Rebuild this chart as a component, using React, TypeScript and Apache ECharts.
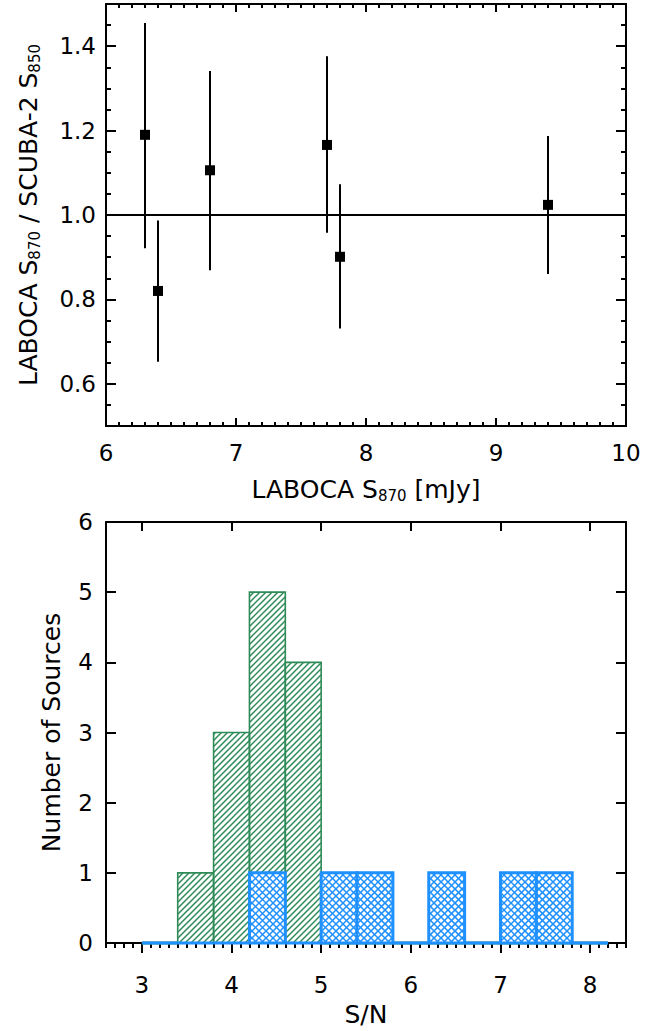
import React, { useEffect, useRef } from "react";
import * as echarts from "echarts";

// ---------- Top panel data ----------
const LABOCA_FLUX = [6.3, 6.4, 6.8, 7.7, 7.8, 9.4];
const FLUX_RATIO = [1.19, 0.82, 1.106, 1.166, 0.901, 1.024];
const RATIO_LOW = [0.921, 0.652, 0.869, 0.958, 0.731, 0.86];
const RATIO_HIGH = [1.455, 0.987, 1.341, 1.376, 1.073, 1.187];
const REF_LINE_X = [6, 10];
const REF_LINE_Y = [1, 1];

const TOP_X_MAJOR = [6, 7, 8, 9, 10];
const TOP_Y_MAJOR = [0.6, 0.8, 1.0, 1.2, 1.4];

// ---------- Bottom panel data ----------
const BIN_START = [3.0, 3.4, 3.8, 4.2, 4.6, 5.0, 5.4, 5.8, 6.2, 6.6, 7.0, 7.4, 7.8];
const BIN_WIDTH = 0.4;
const GREEN_COUNTS = [0, 1, 3, 5, 4, 0, 0, 0, 0, 0, 0, 0, 0];
const BLUE_COUNTS = [0, 0, 0, 1, 0, 1, 1, 0, 1, 0, 1, 1, 0];

const BOT_X_MAJOR = [3, 4, 5, 6, 7, 8];
const BOT_Y_MAJOR = [0, 1, 2, 3, 4, 5, 6];

function steps(a: number, b: number, s: number): number[] {
  const out: number[] = [];
  const n = Math.round((b - a) / s);
  for (let i = 0; i <= n; i++) out.push(+(a + i * s).toFixed(4));
  return out;
}
const TOP_X_MINOR = steps(6, 10, 0.1);
const TOP_Y_MINOR = steps(0.5, 1.5, 0.05);
const BOT_X_MINOR = steps(2.6, 8.4, 0.1);

const FONT = "DejaVu Sans";
const GREEN = "#2E8B57";
const BLUE = "#1E90FF";

function hatch(
  x0: number,
  y0: number,
  w: number,
  h: number,
  step: number,
  dir: "/" | "\\",
  style: any
) {
  const out: any[] = [];
  const x1 = x0 + w;
  const y1 = y0 + h;
  if (dir === "/") {
    const cMin = x0 + y0;
    const cMax = x1 + y1;
    for (let c = Math.ceil(cMin / step) * step; c <= cMax; c += step) {
      const xa = Math.max(x0, c - y1);
      const xb = Math.min(x1, c - y0);
      if (xb - xa < 0.3) continue;
      out.push({ type: "line", shape: { x1: xa, y1: c - xa, x2: xb, y2: c - xb }, style });
    }
  } else {
    const cMin = x0 - y1;
    const cMax = x1 - y0;
    for (let c = Math.ceil(cMin / step) * step; c <= cMax; c += step) {
      const xa = Math.max(x0, c + y0);
      const xb = Math.min(x1, c + y1);
      if (xb - xa < 0.3) continue;
      out.push({ type: "line", shape: { x1: xa, y1: xa - c, x2: xb, y2: xb - c }, style });
    }
  }
  return out;
}

function histRender(color: string, outlineW: number, cross: boolean, whiteFill: boolean) {
  return (params: any, api: any) => {
    const xs = api.value(0);
    const xe = api.value(1);
    const cnt = api.value(2);
    const p0 = api.coord([xs, cnt]);
    const p1 = api.coord([xe, 0]);
    const x0 = p0[0];
    const y0 = p0[1];
    const w = p1[0] - p0[0];
    const h = p1[1] - p0[1];
    if (cnt <= 0) {
      return {
        type: "line",
        shape: { x1: x0, y1: p1[1], x2: p1[0], y2: p1[1] },
        style: { stroke: color, lineWidth: 3 },
      };
    }
    const hs = { stroke: color, lineWidth: 1.5 };
    const children: any[] = [];
    if (whiteFill) {
      children.push({ type: "rect", shape: { x: x0, y: y0, width: w, height: h }, style: { fill: "#fff" } });
    }
    if (cross) {
      children.push(...hatch(x0, y0, w, h, 7, "/", hs));
      children.push(...hatch(x0, y0, w, h, 7, "\\", hs));
    } else {
      children.push(...hatch(x0, y0, w, h, 6, "/", hs));
    }
    children.push({
      type: "rect",
      shape: { x: x0, y: y0, width: w, height: h },
      style: { fill: "none", stroke: color, lineWidth: outlineW },
    });
    return { type: "group", children };
  };
}

const rich = {
  m: { fontFamily: FONT, fontSize: 25, color: "#000", lineHeight: 28 },
  s: { fontFamily: FONT, fontSize: 15, color: "#000", lineHeight: 11, verticalAlign: "bottom" },
};

const axisLineStyle = { color: "#000", width: 2 };
const tickLabel = { fontFamily: FONT, fontSize: 23, color: "#000" };
const titleStyle = { fontFamily: FONT, fontSize: 25, color: "#000" };

export default function App() {
  const ref = useRef<HTMLDivElement>(null);
  useEffect(() => {
    if (!ref.current) return;
    const chart = echarts.init(ref.current, undefined, { renderer: "svg" });

    const topBase = { gridIndex: 0, type: "value", min: 6, max: 10 };
    const topYBase = { gridIndex: 0, type: "value", min: 0.5, max: 1.5 };
    const botBase = { gridIndex: 1, type: "value", min: 2.6, max: 8.4 };
    const botYBase = { gridIndex: 1, type: "value", min: 0, max: 6 };
    const noSplit = { splitLine: { show: false } };
    const hiddenLine = { axisLine: { show: false, onZero: false } };
    const shownLine = { axisLine: { show: true, onZero: false, lineStyle: axisLineStyle } };
    const noLabel = { axisLabel: { show: false } };
    const tk = { width: 2, color: "#000" };

    const option: any = {
      animation: false,
      backgroundColor: "#fff",
      grid: [
        { left: 106, top: 4, width: 520, height: 422 },
        { left: 106, top: 522, width: 520, height: 421 },
      ],
      xAxis: [
        {
          ...topBase, ...noSplit, ...shownLine, position: "bottom",
          axisTick: { show: true, inside: true, length: 8, lineStyle: tk, customValues: TOP_X_MAJOR },
          axisLabel: { ...tickLabel, margin: 15, customValues: TOP_X_MAJOR },
          name: "{m|LABOCA S}{s|870}{m| [mJy]}",
          nameLocation: "middle",
          nameGap: 49,
          nameTextStyle: { rich, ...titleStyle },
        },
        {
          ...topBase, ...noSplit, ...hiddenLine, ...noLabel, position: "bottom",
          axisTick: { show: true, inside: true, length: 4, lineStyle: tk, customValues: TOP_X_MINOR },
        },
        {
          ...topBase, ...noSplit, ...shownLine, ...noLabel, position: "top",
          axisTick: { show: true, inside: true, length: 8, lineStyle: tk, customValues: TOP_X_MAJOR },
        },
        {
          ...topBase, ...noSplit, ...hiddenLine, ...noLabel, position: "top",
          axisTick: { show: true, inside: true, length: 4, lineStyle: tk, customValues: TOP_X_MINOR },
        },
        {
          ...botBase, ...noSplit, ...shownLine, position: "bottom",
          axisTick: { show: true, inside: false, length: 10, lineStyle: tk, customValues: BOT_X_MAJOR },
          axisLabel: { ...tickLabel, margin: 30, customValues: BOT_X_MAJOR },
          name: "S/N",
          nameLocation: "middle",
          nameGap: 59,
          nameTextStyle: titleStyle,
        },
        {
          ...botBase, ...noSplit, ...hiddenLine, ...noLabel, position: "bottom",
          axisTick: { show: true, inside: false, length: 5, lineStyle: tk, customValues: BOT_X_MINOR },
        },
        {
          ...botBase, ...noSplit, ...shownLine, ...noLabel, position: "top",
          axisTick: { show: true, inside: true, length: 9, lineStyle: tk, customValues: BOT_X_MAJOR },
        },
      ],
      yAxis: [
        {
          ...topYBase, ...noSplit, ...shownLine, position: "left",
          axisTick: { show: true, inside: true, length: 10, lineStyle: tk, customValues: TOP_Y_MAJOR },
          axisLabel: { ...tickLabel, margin: 10, customValues: TOP_Y_MAJOR, formatter: (v: number) => v.toFixed(1) },
          name: "{m|LABOCA S}{s|870}{m| / SCUBA-2 S}{s|850}",
          nameLocation: "middle",
          nameGap: 64,
          nameRotate: 90,
          nameTextStyle: { rich, ...titleStyle },
        },
        {
          ...topYBase, ...noSplit, ...hiddenLine, ...noLabel, position: "left",
          axisTick: { show: true, inside: true, length: 5, lineStyle: tk, customValues: TOP_Y_MINOR },
        },
        {
          ...topYBase, ...noSplit, ...shownLine, ...noLabel, position: "right",
          axisTick: { show: true, inside: true, length: 10, lineStyle: tk, customValues: TOP_Y_MAJOR },
        },
        {
          ...topYBase, ...noSplit, ...hiddenLine, ...noLabel, position: "right",
          axisTick: { show: true, inside: true, length: 5, lineStyle: tk, customValues: TOP_Y_MINOR },
        },
        {
          ...botYBase, ...noSplit, ...shownLine, position: "left",
          axisTick: { show: true, inside: true, length: 10, lineStyle: tk, customValues: BOT_Y_MAJOR },
          axisLabel: { ...tickLabel, margin: 13, customValues: BOT_Y_MAJOR },
          name: "Number of Sources",
          nameLocation: "middle",
          nameGap: 42,
          nameRotate: 90,
          nameTextStyle: titleStyle,
        },
        {
          ...botYBase, ...noSplit, ...shownLine, ...noLabel, position: "right",
          axisTick: { show: true, inside: true, length: 10, lineStyle: tk, customValues: BOT_Y_MAJOR },
        },
      ],
      series: [
        {
          type: "line",
          xAxisIndex: 0,
          yAxisIndex: 0,
          data: REF_LINE_X.map((x, i) => [x, REF_LINE_Y[i]]),
          symbol: "none",
          lineStyle: { color: "#000", width: 2 },
          silent: true,
        },
        {
          type: "custom",
          xAxisIndex: 0,
          yAxisIndex: 0,
          data: LABOCA_FLUX.map((x, i) => [x, FLUX_RATIO[i], RATIO_LOW[i], RATIO_HIGH[i]]),
          encode: { x: 0, y: [1, 2, 3] },
          renderItem: (params: any, api: any) => {
            const x = api.value(0);
            const c = api.coord([x, api.value(1)]);
            const lo = api.coord([x, api.value(2)]);
            const hi = api.coord([x, api.value(3)]);
            return {
              type: "group",
              children: [
                { type: "line", shape: { x1: lo[0], y1: lo[1], x2: hi[0], y2: hi[1] }, style: { stroke: "#000", lineWidth: 2 } },
                { type: "rect", shape: { x: c[0] - 5, y: c[1] - 5, width: 10, height: 10 }, style: { fill: "#000" } },
              ],
            };
          },
        },
        {
          type: "custom",
          xAxisIndex: 4,
          yAxisIndex: 4,
          data: BIN_START.map((b, i) => [b, +(b + BIN_WIDTH).toFixed(2), GREEN_COUNTS[i]]),
          encode: { x: [0, 1], y: 2 },
          renderItem: histRender(GREEN, 1.6, false, false),
        },
        {
          type: "custom",
          xAxisIndex: 4,
          yAxisIndex: 4,
          data: BIN_START.map((b, i) => [b, +(b + BIN_WIDTH).toFixed(2), BLUE_COUNTS[i]]),
          encode: { x: [0, 1], y: 2 },
          renderItem: histRender(BLUE, 3, true, true),
        },
      ],
    };
    chart.setOption(option);
    return () => chart.dispose();
  }, []);
  return (
    <div
      ref={ref}
      style={{ position: "absolute", left: 0, top: 0, width: 668, height: 1031, background: "#fff" }}
    />
  );
}
